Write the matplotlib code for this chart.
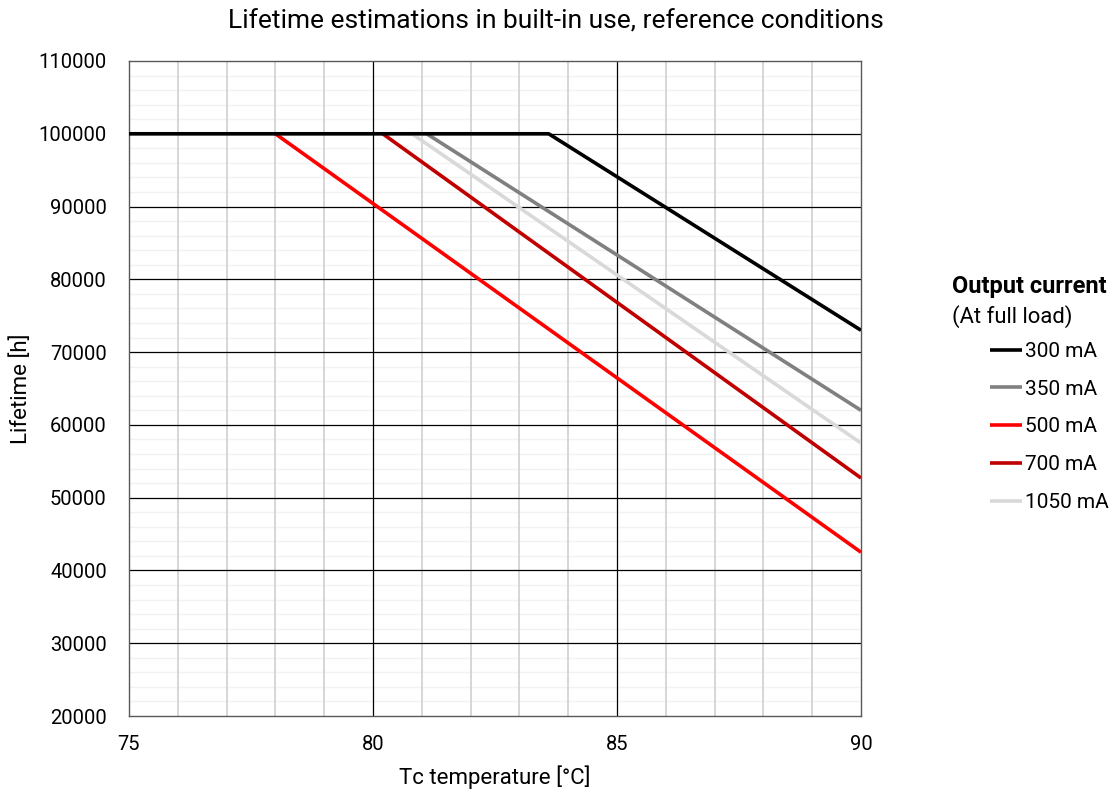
import numpy as np
import matplotlib.pyplot as plt
from matplotlib.ticker import MultipleLocator, FixedLocator

plt.rcParams['font.family'] = ['Roboto', 'DejaVu Sans']

# data (Tc temperature [°C], lifetime [h])
labels = ['300 mA', '350 mA', '500 mA', '700 mA', '1050 mA']
temps = [
    [75, 83.6, 90],
    [81.1, 90],
    [78.0, 90],
    [80.2, 90],
    [80.8, 90],
]
lifetimes = [
    [100000, 100000, 73000],
    [100000, 62000],
    [100000, 42500],
    [100000, 52700],
    [100000, 57500],
]
colors = ['#000000', '#808080', '#ff0000', '#c00000', '#d9d9d9']

fig = plt.figure(figsize=(11.18, 7.96), dpi=100)
ax = fig.add_axes([129/1118, 1 - 716/796, (861-129)/1118, (716-61)/796])

# draw order: light lines first so black sits on top of the flat part
order = [2, 3, 4, 1, 0]
lines = {}
for i in order:
    ln, = ax.plot(temps[i], lifetimes[i], color=colors[i], lw=2.6,
                  solid_capstyle='butt', label=labels[i], zorder=3 + (i == 0))
    lines[i] = ln

ax.set_xlim(75, 90)
ax.set_ylim(20000, 110000)
ax.xaxis.set_major_locator(MultipleLocator(5))
ax.xaxis.set_minor_locator(FixedLocator([t for t in range(76, 90) if t % 5]))
ax.yaxis.set_major_locator(MultipleLocator(10000))
ax.yaxis.set_minor_locator(FixedLocator([v for v in range(22000, 110000, 2000) if v % 10000]))

# minor grid: light horizontals under gray verticals
for v in range(22000, 110000, 2000):
    if v % 10000:
        ax.axhline(v, color='#f2f2f2', lw=1.0, zorder=0.5)
for t in range(76, 90):
    if t % 5:
        ax.axvline(t, color='#d0d0d0', lw=1.2, zorder=0.6)
# major grid on top of the minor one
for v in range(30000, 110000, 10000):
    ax.axhline(v, color='#000000', lw=0.9, zorder=1)
for t in (80, 85):
    ax.axvline(t, color='#000000', lw=0.9, zorder=1)

for s in ax.spines.values():
    s.set_color('#595959')
    s.set_linewidth(1.0)
ax.tick_params(which='both', length=0)
ax.tick_params(axis='y', pad=16, labelsize=14.5)
ax.tick_params(axis='x', pad=14, labelsize=14.5)

ax.set_xlabel('Tc temperature [°C]', fontsize=16, labelpad=8)
ax.set_ylabel('Lifetime [h]', fontsize=16)
ax.yaxis.set_label_coords(-0.133, 0.5)
fig.text(556/1118, 1 - 21/796, 'Lifetime estimations in built-in use, reference conditions',
         fontsize=19, ha='center', va='center')

fig.text(952/1118, 1 - 286/796, 'Output current', fontsize=17,
         fontweight='bold', va='center')
fig.text(952/1118, 1 - 317/796, '(At full load)', fontsize=15.8, va='center')
ax.legend(handles=[lines[i] for i in range(5)], frameon=False,
          loc='upper left', bbox_to_anchor=(990/1118, 1 - 342/796),
          bbox_transform=fig.transFigure, fontsize=15,
          handlelength=1.55, handletextpad=0.12, labelspacing=0.9,
          borderaxespad=0, borderpad=0)

fig.savefig('out.png', dpi=100)
